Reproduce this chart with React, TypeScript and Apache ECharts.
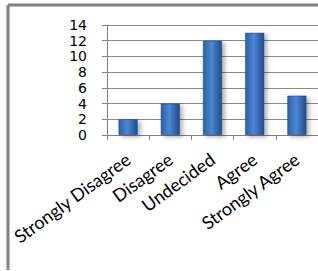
import React, { useEffect, useRef } from "react";
import * as echarts from "echarts";

const categories = ["Strongly Disagree", "Disagree", "Undecided", "Agree", "Strongly Agree"];
const values = [2, 4, 12, 13, 5];
const yTicks = [0, 2, 4, 6, 8, 10, 12, 14];

export default function App() {
  const ref = useRef<HTMLDivElement>(null);
  useEffect(() => {
    document.body.style.margin = "0";
    const chart = echarts.init(ref.current!, null, { renderer: "svg" });
    chart.setOption({
      animation: false,
      backgroundColor: "#ffffff",
      graphic: [
        { type: "line", shape: { x1: 8, y1: 5, x2: 318, y2: 5 }, style: { stroke: "#808080", lineWidth: 3 } },
        { type: "line", shape: { x1: 8, y1: 5, x2: 8, y2: 270 }, style: { stroke: "#808080", lineWidth: 3 } },
      ],
      grid: { left: 107, top: 25, width: 220, height: 110, containLabel: false },
      xAxis: {
        type: "category",
        data: categories,
        axisLine: { lineStyle: { color: "#808080", width: 1 } },
        axisTick: { show: true, length: 5, alignWithLabel: false, lineStyle: { color: "#808080" } },
        axisLabel: {
          rotate: 36,
          interval: 0,
          margin: 22,
          fontFamily: "Lato",
          fontSize: 18,
          color: "#000000",
        },
      },
      yAxis: {
        type: "value",
        min: yTicks[0],
        max: yTicks[yTicks.length - 1],
        interval: 2,
        axisLine: { show: true, lineStyle: { color: "#808080", width: 1 } },
        axisTick: { show: true, length: 5, lineStyle: { color: "#808080" } },
        splitLine: { show: true, lineStyle: { color: "#8a8a8a", width: 1 } },
        axisLabel: {
          margin: 20,
          showMinLabel: true,
          showMaxLabel: true,
          hideOverlap: false,
          fontFamily: "DejaVu Sans",
          fontSize: 14,
          lineHeight: 14,
          color: "#000000",
        },
      },
      series: [
        {
          type: "bar",
          data: values,
          barWidth: 19,
          itemStyle: {
            color: new echarts.graphic.LinearGradient(0, 0, 1, 0, [
              { offset: 0, color: "#2d5fa6" },
              { offset: 0.45, color: "#4b88d4" },
              { offset: 1, color: "#1f4b8c" },
            ]),
            borderColor: "#1f4580",
            borderWidth: 0.5,
            shadowColor: "rgba(0,0,0,0.3)",
            shadowBlur: 4,
            shadowOffsetX: 3,
            shadowOffsetY: 2,
          },
        },
      ],
    });
    return () => chart.dispose();
  }, []);
  return <div ref={ref} style={{ width: 318, height: 271 }} />;
}
